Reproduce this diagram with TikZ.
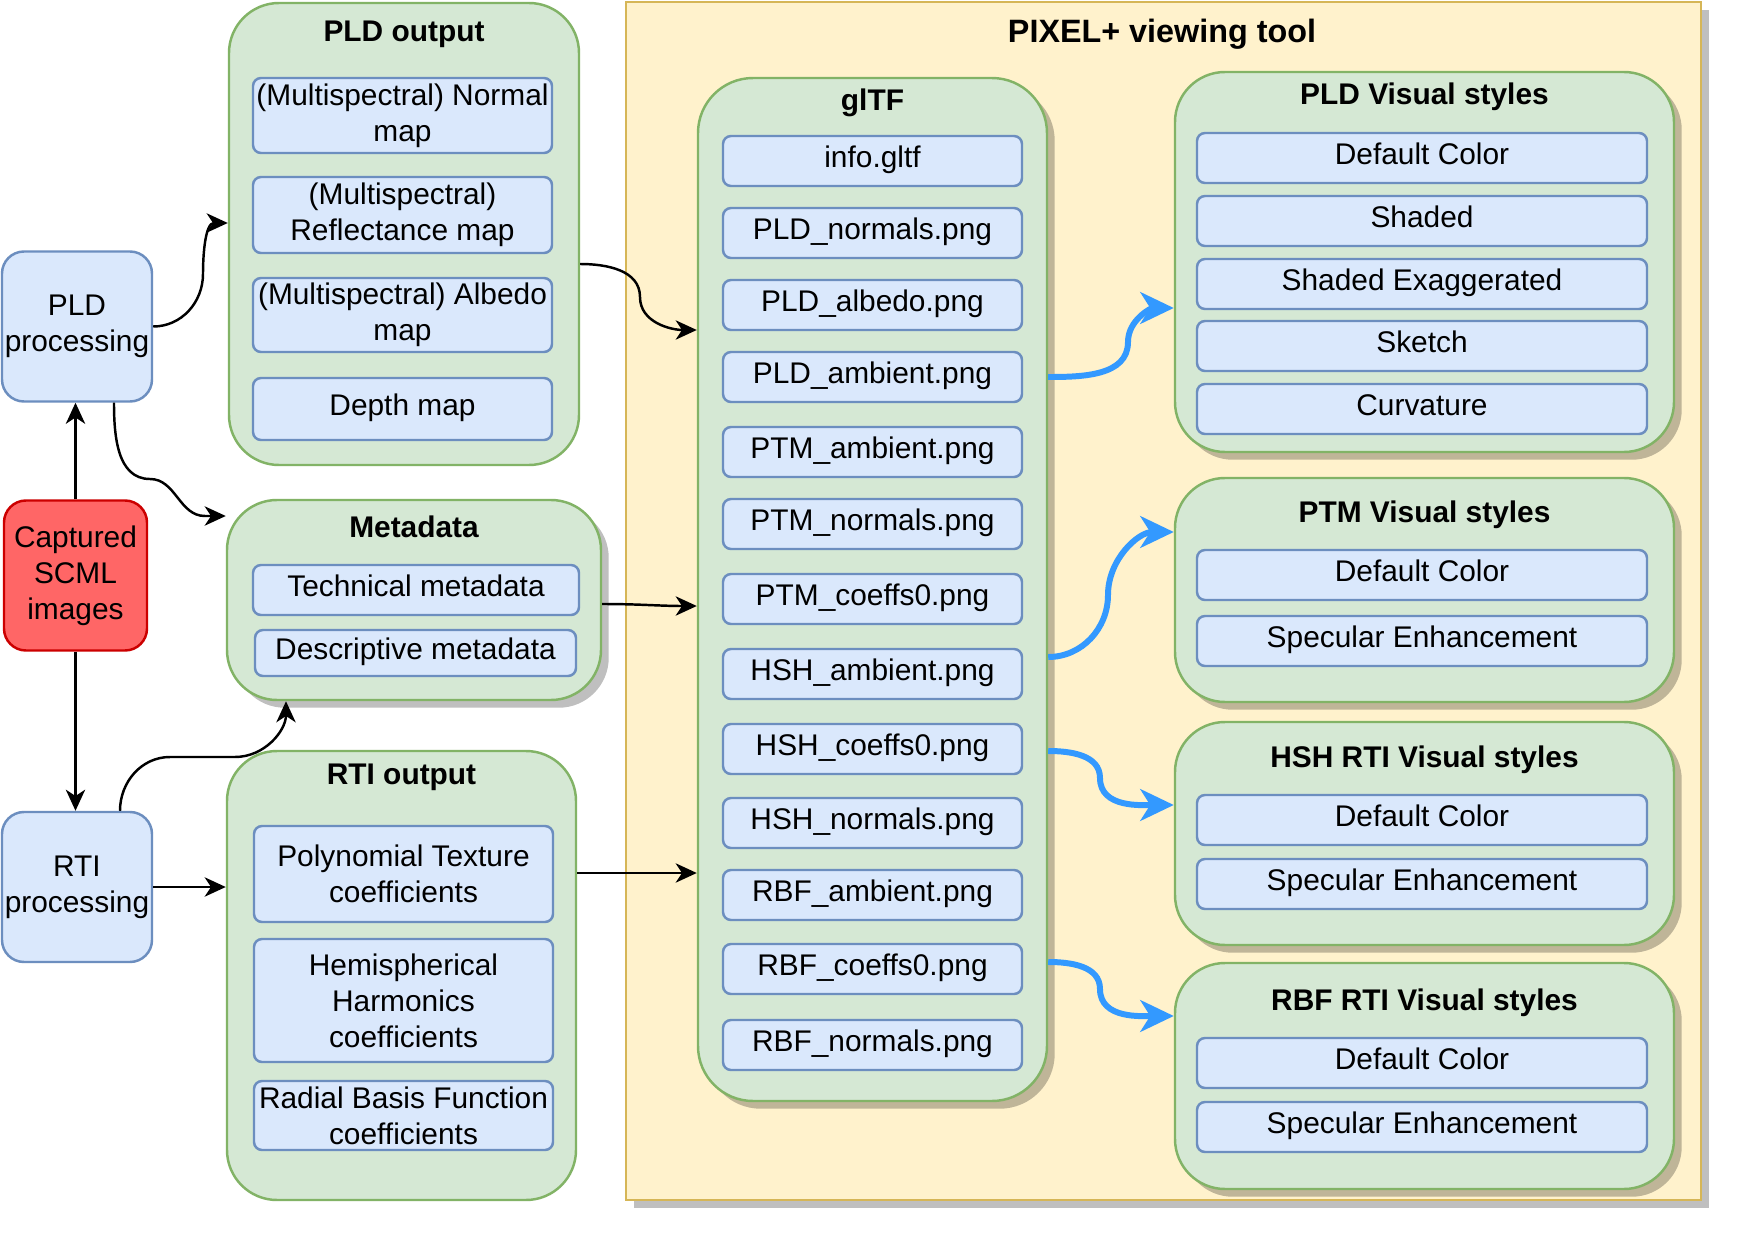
\documentclass[tikz,border=0pt]{standalone}
\usepackage{fontspec}
\setmainfont{Liberation Sans}
\usetikzlibrary{arrows.meta,shadows}

\definecolor{grpfill}{HTML}{D5E8D4}
\definecolor{grpline}{HTML}{82B366}
\definecolor{itemfill}{HTML}{DAE8FC}
\definecolor{itemline}{HTML}{6C8EBF}
\definecolor{toolfill}{HTML}{FFF2CC}
\definecolor{toolline}{HTML}{D6B656}
\definecolor{capfill}{HTML}{FF6666}
\definecolor{capline}{HTML}{CC0000}
\definecolor{flowblue}{HTML}{3399FF}

\begin{document}
\begin{tikzpicture}[x=0.1mm,y=-0.1mm]

\tikzset{txt/.style = {font=\fontsize{8.5}{10.2}\selectfont,align=center,inner sep=0pt}}
\tikzset{title/.style = {txt,font=\fontsize{8.5}{10.2}\selectfont\bfseries}}
\tikzset{proc/.style = {txt,shape=rectangle,draw=itemline,fill=itemfill,line width=0.7pt,rounded corners=2.2mm,minimum width=15mm,minimum height=15mm}}
\tikzset{capt/.style = {proc,draw=capline,fill=capfill}}
\tikzset{item/.style = {txt,shape=rectangle,draw=itemline,fill=itemfill,line width=0.7pt,rounded corners=0.8mm,minimum height=5mm,text height=6.2pt,text depth=2.4pt}}
\tikzset{multi/.style = {text height={},text depth={}}}
\tikzset{group/.style = {shape=rectangle,draw=grpline,fill=grpfill,line width=0.7pt,rounded corners=5mm}}
\tikzset{shade/.style = {drop shadow={shadow xshift=2.2pt,shadow yshift=-2.2pt,fill=black,opacity=0.25}}}
\tikzset{edge/.style = {-{Stealth[length=6pt,width=5.5pt,inset=1.8pt]},line width=0.7pt}}
\tikzset{flow/.style = {-{Stealth[length=9.5pt,width=9pt,inset=2.8pt]},line width=1.7pt,draw=flowblue}}

\fill[white] (0,0) rectangle (1738,1240);
\useasboundingbox (0,0) rectangle (1738,1240);

% viewing tool frame
\node[shape=rectangle,draw=toolline,fill=toolfill,line width=0.7pt,shade,minimum width=107.5mm,minimum height=119.8mm] (tool) at (1163.5,601) {};
\node[title,font=\fontsize{9.2}{11}\selectfont\bfseries] (tooltitle) at (1162,34) {PIXEL+ viewing tool};

% left column
\node[proc] (pldproc) at (77,326.5) {PLD\\processing};
\node[capt,minimum width=14.3mm] (capt) at (75.5,575.5) {Captured\\SCML\\images};
\node[proc] (rtiproc) at (77,887) {RTI\\processing};

% PLD output
\node[group,minimum width=35mm,minimum height=46.2mm] (pldout) at (404,234) {};
\node[title] (pldouttitle) at (404,34) {PLD output};
\node[item,multi,minimum width=29.9mm,minimum height=7.5mm] (pldnorm) at (402.5,115.5) {(Multispectral) Normal\\map};
\node[item,multi,minimum width=29.9mm,minimum height=7.6mm] (pldrefl) at (402.5,215) {(Multispectral)\\Reflectance map};
\node[item,multi,minimum width=29.9mm,minimum height=7.4mm] (pldalbm) at (402.5,315) {(Multispectral) Albedo\\map};
\node[item,minimum width=29.9mm,minimum height=6.2mm] (depth) at (402.5,409) {Depth map};

% metadata
\node[group,shade,minimum width=37.4mm,minimum height=20mm] (metadata) at (414,600) {};
\node[title] (metatitle) at (414,527) {Metadata};
\node[item,minimum width=32.6mm] (techmeta) at (416,590) {Technical metadata};
\node[item,minimum width=32.1mm,minimum height=4.6mm] (descmeta) at (415.5,653) {Descriptive metadata};

% RTI output
\node[group,minimum width=34.9mm,minimum height=44.9mm] (rtiout) at (401.5,975.5) {};
\node[title] (rtiouttitle) at (401.5,777) {RTI output};
\node[item,multi,minimum width=29.9mm,minimum height=9.6mm] (ptmcoef) at (403.5,874) {Polynomial Texture\\coefficients};
\node[item,multi,minimum width=29.9mm,minimum height=12.3mm] (hshcoef) at (403.5,1000.5) {Hemispherical\\Harmonics\\coefficients};
\node[item,multi,minimum width=29.9mm,minimum height=6.9mm] (rbfcoef) at (403.5,1115.5) {Radial Basis Function\\coefficients};

% glTF
\node[group,shade,rounded corners=5.5mm,minimum width=34.9mm,minimum height=102.3mm] (gltf) at (872.5,589.5) {};
\node[title] (gltftitle) at (872.5,103) {glTF};
\node[item,minimum width=29.9mm] (info) at (872.5,161) {info.gltf};
\node[item,minimum width=29.9mm] (pldnormals) at (872.5,233) {PLD\_normals.png};
\node[item,minimum width=29.9mm] (pldalbedo) at (872.5,305) {PLD\_albedo.png};
\node[item,minimum width=29.9mm] (pldambient) at (872.5,377) {PLD\_ambient.png};
\node[item,minimum width=29.9mm] (ptmambient) at (872.5,452) {PTM\_ambient.png};
\node[item,minimum width=29.9mm] (ptmnormals) at (872.5,524) {PTM\_normals.png};
\node[item,minimum width=29.9mm] (ptmcoeffs) at (872.5,599) {PTM\_coeffs0.png};
\node[item,minimum width=29.9mm] (hshambient) at (872.5,674) {HSH\_ambient.png};
\node[item,minimum width=29.9mm] (hshcoeffs) at (872.5,749) {HSH\_coeffs0.png};
\node[item,minimum width=29.9mm] (hshnormals) at (872.5,823) {HSH\_normals.png};
\node[item,minimum width=29.9mm] (rbfambient) at (872.5,895) {RBF\_ambient.png};
\node[item,minimum width=29.9mm] (rbfcoeffs) at (872.5,969) {RBF\_coeffs0.png};
\node[item,minimum width=29.9mm] (rbfnormals) at (872.5,1045) {RBF\_normals.png};

% visual styles
\node[group,shade,minimum width=49.9mm,minimum height=38mm] (pldvs) at (1424.5,262) {};
\node[title] (pldvstitle) at (1424.5,97) {PLD Visual styles};
\node[item,minimum width=45mm] (pldcolor) at (1422,158) {Default Color};
\node[item,minimum width=45mm] (pldshaded) at (1422,221) {Shaded};
\node[item,minimum width=45mm] (pldexag) at (1422,284) {Shaded Exaggerated};
\node[item,minimum width=45mm] (pldsketch) at (1422,346) {Sketch};
\node[item,minimum width=45mm] (pldcurv) at (1422,409) {Curvature};

\node[group,shade,minimum width=49.9mm,minimum height=22.4mm] (ptmvs) at (1424.5,590) {};
\node[title] (ptmvstitle) at (1424.5,515) {PTM Visual styles};
\node[item,minimum width=45mm] (ptmcolor) at (1422,575) {Default Color};
\node[item,minimum width=45mm] (ptmspec) at (1422,641) {Specular Enhancement};

\node[group,shade,minimum width=49.9mm,minimum height=22.3mm] (hshvs) at (1424.5,833.5) {};
\node[title] (hshvstitle) at (1424.5,760) {HSH RTI Visual styles};
\node[item,minimum width=45mm] (hshcolor) at (1422,820) {Default Color};
\node[item,minimum width=45mm] (hshspec) at (1422,884) {Specular Enhancement};

\node[group,shade,minimum width=49.9mm,minimum height=22.6mm] (rbfvs) at (1424.5,1076) {};
\node[title] (rbfvstitle) at (1424.5,1003) {RBF RTI Visual styles};
\node[item,minimum width=45mm] (rbfcolor) at (1422,1063) {Default Color};
\node[item,minimum width=45mm] (rbfspec) at (1422,1127) {Specular Enhancement};

% connectors
\draw[edge] (capt.north) -- (capt.north |- pldproc.south);
\draw[edge] (capt.south) -- (capt.south |- rtiproc.north);
\draw[edge] (pldproc.east) to[out=0,in=-90] (203,274) to[out=90,in=180] (pldout.west |- 0,223);
\draw[edge] (pldproc.south -| 114,0) to[out=-90,in=180] (150,479) to[out=0,in=180] (205,516) -- (metadata.west |- 0,516);
\draw[edge] (rtiproc.north -| 120,0) to[out=90,in=180] (170,757) -- (235,757) to[out=0,in=-90] (metadata.south -| 286,0);
\draw[edge] (rtiproc.east) -- (rtiout.west |- rtiproc.east);
\draw[edge] (pldout.east |- 0,264) to[out=0,in=90] (640,297) to[out=-90,in=180] (gltf.west |- 0,330);
\draw[edge] (metadata.east |- 0,604) to[out=0,in=180] (gltf.west |- 0,606);
\draw[edge] (rtiout.east |- 0,873) -- (gltf.west |- 0,873);

\draw[flow] (gltf.east |- 0,377) to[out=0,in=-90] (1128,342) to[out=90,in=180] (pldvs.west |- 0,308);
\draw[flow] (gltf.east |- 0,657) to[out=0,in=-90] (1108,595) to[out=90,in=180] (ptmvs.west |- 0,532);
\draw[flow] (gltf.east |- 0,751) to[out=0,in=90] (1100,778) to[out=-90,in=180] (hshvs.west |- 0,805);
\draw[flow] (gltf.east |- 0,962) to[out=0,in=90] (1100,989) to[out=-90,in=180] (rbfvs.west |- 0,1016);

\end{tikzpicture}
\end{document}
